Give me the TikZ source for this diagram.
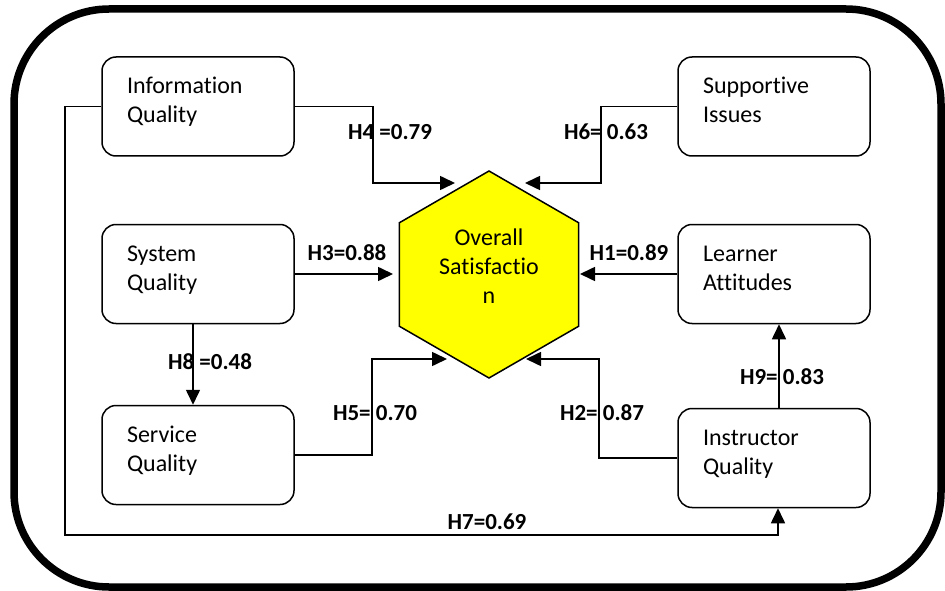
\documentclass[tikz,border=0pt]{standalone}
\usepackage{fontspec}
\setmainfont{Carlito}[Ligatures=NoCommon]
\usetikzlibrary{arrows.meta,shapes.geometric}

\definecolor{hexyellow}{RGB}{255,255,0}

\begin{document}
\begin{tikzpicture}[x=1pt,y=-1pt,
  factor/.style={draw, line width=1.5pt, rounded corners=14pt,
    minimum width=192pt, minimum height=99pt,
    inner xsep=25pt, inner ysep=0pt, text width=142pt, align=left,
    text height=18pt, text depth=43pt,
    font=\fontsize{24}{29}\selectfont},
  hexnode/.style={draw, line width=1.5pt, fill=hexyellow,
    regular polygon, regular polygon sides=6, shape border rotate=30,
    minimum size=207pt, inner sep=0pt},
  conn/.style={line width=1.6pt},
  arr/.style={conn, -{Triangle[length=15pt,width=14pt]}},
  coef/.style={font=\fontsize{23}{26}\selectfont\bfseries, inner sep=0pt}
]
\useasboundingbox (0,0) rectangle (945,591);

% frame
\draw[line width=7.5pt, rounded corners=95pt] (14,9) rectangle (941,587);

% factor boxes
\node[factor] (iq)  at (198,106.5) {Information\\Quality};
\node[factor] (si)  at (774,106.5) {Supportive\\Issues};
\node[factor] (sq)  at (198,274)   {System\\Quality};
\node[factor] (la)  at (774,274)   {Learner\\Attitudes};
\node[factor] (svq) at (198,455)   {Service\\Quality};
\node[factor] (inq) at (774,458)   {Instructor\\Quality};

% central construct
\node[hexnode] (os) at (489,274.5) {};
\node[font=\fontsize{24}{29}\selectfont, align=center] (ostext) at (489,266)
  {Overall\\Satisfactio\\n};

% arrow ends and bends
\coordinate (b4) at (373,183);  \coordinate (t4) at (455,183);
\coordinate (b6) at (601,183);  \coordinate (t6) at (525,183);
\coordinate (t3) at (393,274);  \coordinate (t1) at (580,274);
\coordinate (b5) at (372,359);  \coordinate (t5) at (447,359);
\coordinate (b2) at (599,359);  \coordinate (t2) at (526,359);
\coordinate (c7) at (65,535);

% paths
\draw[arr] (iq.east) -| (b4) -- (t4);
\draw[arr] (si.west) -| (b6) -- (t6);
\draw[arr] (sq.east) -- (t3);
\draw[arr] (la.west) -- (t1);
\draw[arr] (svq.east) -| (b5) -- (t5);
\draw[arr] (inq.west) -| (b2) -- (t2);
\draw[arr] ([xshift=-5pt]sq.south) -- ([xshift=-5pt]svq.north);
\draw[arr] ([xshift=5pt]inq.north) -- ([xshift=5pt]la.south);
\draw[arr] (iq.west) -| (c7) -| ([xshift=4pt]inq.south);

% path coefficients
\node[coef] (h4) at (390,132) {H4 =0.79};
\node[coef] (h6) at (606,132) {H6= 0.63};
\node[coef] (h3) at (347,253) {H3=0.88};
\node[coef] (h1) at (629,253) {H1=0.89};
\node[coef] (h8) at (210,362) {H8 =0.48};
\node[coef] (h5) at (375,413) {H5= 0.70};
\node[coef] (h2) at (602,413) {H2= 0.87};
\node[coef] (h9) at (782,377) {H9= 0.83};
\node[coef] (h7) at (487,522) {H7=0.69};
\end{tikzpicture}
\end{document}
